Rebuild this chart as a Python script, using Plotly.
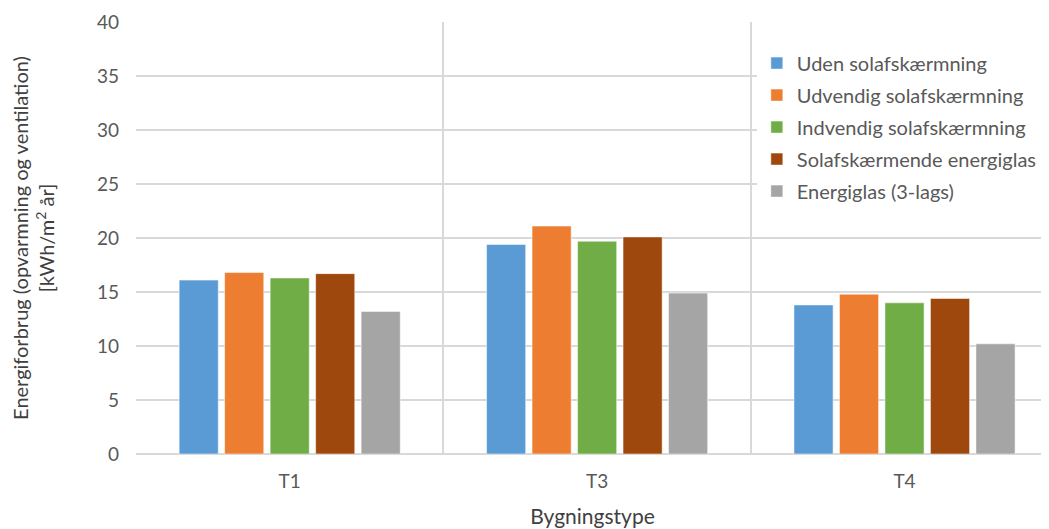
import plotly.graph_objects as go

categories = ["T1", "T3", "T4"]
series_names = ["Uden solafskærmning", "Udvendig solafskærmning", "Indvendig solafskærmning",
                "Solafskærmende energiglas", "Energiglas (3-lags)"]
uden = [16.1, 19.4, 13.8]
udvendig = [16.8, 21.1, 14.8]
indvendig = [16.3, 19.7, 14.0]
energiglas_sol = [16.7, 20.1, 14.4]
energiglas_3 = [13.2, 14.9, 10.2]
values = [uden, udvendig, indvendig, energiglas_sol, energiglas_3]
colors = ["#5b9bd5", "#ed7d31", "#70ad47", "#9e480e", "#a5a5a5"]
y_ticks = [0, 5, 10, 15, 20, 25, 30, 35, 40]

FONT = "Lato, 'Open Sans', sans-serif"

fig = go.Figure()
for i, (name, vals, col) in enumerate(zip(series_names, values, colors)):
    fig.add_trace(go.Bar(
        x=categories, y=vals, name=name, legendgroup=f"g{i}",
        marker=dict(color=col, line=dict(color="rgba(255,255,255,0.5)", width=1)),
    ))

fig.update_layout(
    width=1041, height=521,
    margin=dict(l=128, r=0, t=14, b=75),
    paper_bgcolor="white", plot_bgcolor="white",
    barmode="group", bargap=0.26, bargroupgap=0.14,
    font=dict(family=FONT, color="#595959", size=19),
    legend=dict(
        x=0.680, xanchor="left", y=0.95, yanchor="top",
        bgcolor="white", borderwidth=0,
        font=dict(size=20, color="#595959"),
        tracegroupgap=3, itemwidth=30,
    ),
    showlegend=True,
)
fig.update_xaxes(
    type="category", range=[-0.5, 2.47], tickson="boundaries", automargin=False,
    showgrid=True, gridcolor="#d9d9d9", gridwidth=1.5,
    ticks="", showline=False, zeroline=False,
    tickfont=dict(size=19, color="#595959"),
    ticklabelstandoff=14,
    title=dict(text="Bygningstype", font=dict(size=21, color="#404040"), standoff=18),
)
fig.update_yaxes(
    range=[0, 40], tickvals=y_ticks, showgrid=True, gridcolor="#d9d9d9", gridwidth=1.5,
    automargin=False,
    zeroline=True, zerolinecolor="#d9d9d9", zerolinewidth=1.5, showline=False,
    tickfont=dict(size=19, color="#595959"), ticklabelstandoff=16,
    title=dict(text="Energiforbrug (opvarmning og ventilation)<br>[kWh/m<sup>2</sup> år]",
               font=dict(size=20, color="#404040"), standoff=38),
)

fig.write_html("out.html")
